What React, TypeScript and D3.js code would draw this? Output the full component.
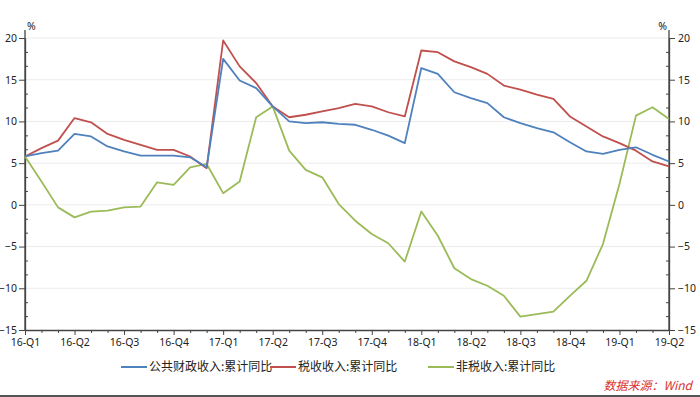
import { useEffect, useRef } from "react";
import * as d3 from "d3";

// quarter labels on the x axis, one every 3 months
const quarterLabels = [
  "16-Q1", "16-Q2", "16-Q3", "16-Q4",
  "17-Q1", "17-Q2", "17-Q3", "17-Q4",
  "18-Q1", "18-Q2", "18-Q3", "18-Q4",
  "19-Q1", "19-Q2",
];

// monthly points, month 0 sits on 16-Q1 and month 39 on 19-Q2
const publicRevenue = [
  5.8, 6.2, 6.5, 8.5, 8.2, 7.0, 6.4, 5.9, 5.9, 5.9, 5.7, 4.5,
  17.5, 14.9, 14.0, 11.8, 10.0, 9.8, 9.9, 9.7, 9.6, 9.0, 8.3, 7.4,
  16.4, 15.7, 13.5, 12.8, 12.2, 10.5, 9.8, 9.2, 8.7, 7.5, 6.4, 6.1,
  6.6, 6.9, 6.0, 5.2,
];
const taxRevenue = [
  5.8, 6.8, 7.7, 10.4, 9.9, 8.5, 7.8, 7.2, 6.6, 6.6, 5.8, 4.4,
  19.7, 16.6, 14.6, 11.8, 10.5, 10.8, 11.2, 11.6, 12.1, 11.8, 11.1, 10.6,
  18.5, 18.3, 17.2, 16.5, 15.7, 14.3, 13.8, 13.2, 12.7, 10.6, 9.4, 8.2,
  7.4, 6.5, 5.2, 4.6,
];
const nonTaxRevenue = [
  5.8, 2.8, -0.3, -1.5, -0.8, -0.7, -0.3, -0.2, 2.7, 2.4, 4.5, 4.9,
  1.4, 2.8, 10.5, 11.8, 6.5, 4.2, 3.3, 0.1, -1.9, -3.5, -4.6, -6.8,
  -0.8, -3.7, -7.6, -8.9, -9.7, -10.9, -13.4, -13.1, -12.8, -10.9, -9.1, -4.7,
  2.5, 10.7, 11.7, 10.3,
];

const seriesNames = ["公共财政收入:累计同比", "税收收入:累计同比", "非税收入:累计同比"];
const seriesColors = ["#4f81bd", "#c0504d", "#9bbb59"];

const yTicks = [-15, -10, -5, 0, 5, 10, 15, 20];

const FONT = "'Noto Sans', 'Noto Sans CJK SC', sans-serif";
const CJK = "'Noto Sans CJK SC', sans-serif";

export default function App() {
  const chartRef = useRef<HTMLDivElement>(null);

  useEffect(() => {
    const root = d3.select(chartRef.current);
    root.selectAll("*").remove();

    const svg = root
      .append("svg")
      .attr("width", 700)
      .attr("height", 397)
      .style("position", "absolute")
      .style("left", 0)
      .style("top", 0)
      .style("background", "#fff");

    const left = 25;
    const right = 669;
    const top = 38;
    const bottom = 330;

    const n = publicRevenue.length;
    const x = d3.scaleLinear().domain([0, n - 1]).range([left, right]);
    const y = d3.scaleLinear().domain([-15, 20]).range([bottom, top]);

    // grid
    svg
      .append("g")
      .selectAll("line")
      .data(yTicks.slice(1))
      .enter()
      .append("line")
      .attr("x1", left)
      .attr("x2", right)
      .attr("y1", d => y(d))
      .attr("y2", d => y(d))
      .attr("stroke", "#ebebeb")
      .attr("stroke-width", 1);

    const minorY = d3.range(-15, 20.01, 5 / 3).filter(v => Math.abs(v / 5 - Math.round(v / 5)) > 0.01);

    const styleAxis = (g: d3.Selection<SVGGElement, unknown, null, undefined>) => {
      g.selectAll(".domain").attr("stroke", "#444").attr("stroke-width", 1.3);
      g.selectAll(".tick line").attr("stroke", "#444");
      g.selectAll("text")
        .attr("fill", "#222")
        .style("font-family", FONT)
        .style("font-size", "10.5px");
    };

    // left axis
    const leftAxis = svg
      .append("g")
      .attr("transform", `translate(${left},0)`)
      .call(d3.axisLeft(y).tickValues(yTicks).tickSize(6).tickPadding(2).tickSizeOuter(0));
    styleAxis(leftAxis);
    svg
      .append("g")
      .attr("transform", `translate(${left},0)`)
      .call(d3.axisLeft(y).tickValues(minorY).tickSize(-3).tickFormat(() => "").tickSizeOuter(0))
      .call(g => g.select(".domain").remove())
      .call(g => g.selectAll(".tick line").attr("stroke", "#444"));
    svg.append("line")
      .attr("x1", left).attr("x2", left).attr("y1", 30).attr("y2", bottom)
      .attr("stroke", "#444").attr("stroke-width", 1.3);

    // right axis
    const rightAxis = svg
      .append("g")
      .attr("transform", `translate(${right},0)`)
      .call(d3.axisRight(y).tickValues(yTicks).tickSize(6).tickPadding(3).tickSizeOuter(0));
    styleAxis(rightAxis);
    svg
      .append("g")
      .attr("transform", `translate(${right},0)`)
      .call(d3.axisRight(y).tickValues(minorY).tickSize(-3).tickFormat(() => "").tickSizeOuter(0))
      .call(g => g.select(".domain").remove())
      .call(g => g.selectAll(".tick line").attr("stroke", "#444"));
    svg.append("line")
      .attr("x1", right).attr("x2", right).attr("y1", 30).attr("y2", bottom)
      .attr("stroke", "#444").attr("stroke-width", 1.3);

    // % units
    svg.append("text")
      .attr("x", left + 2).attr("y", 30)
      .attr("fill", "#222").style("font-family", FONT).style("font-size", "10.5px")
      .text("%");
    svg.append("text")
      .attr("x", right - 2).attr("y", 30).attr("text-anchor", "end")
      .attr("fill", "#222").style("font-family", FONT).style("font-size", "10.5px")
      .text("%");

    // bottom axis
    const quarterIdx = quarterLabels.map((_, i) => i * 3);
    const bottomAxis = svg
      .append("g")
      .attr("transform", `translate(0,${bottom})`)
      .call(
        d3.axisBottom(x)
          .tickValues(quarterIdx)
          .tickFormat((_, i) => quarterLabels[i])
          .tickSize(5)
          .tickPadding(4)
          .tickSizeOuter(0)
      );
    styleAxis(bottomAxis);
    svg
      .append("g")
      .attr("transform", `translate(0,${bottom})`)
      .call(
        d3.axisBottom(x)
          .tickValues(d3.range(0, n).filter(i => i % 3 !== 0))
          .tickSize(3)
          .tickFormat(() => "")
          .tickSizeOuter(0)
      )
      .call(g => g.select(".domain").remove())
      .call(g => g.selectAll(".tick line").attr("stroke", "#444"));

    // lines
    const lineGenerator = d3
      .line<number>()
      .x((_, i) => x(i))
      .y(d => y(d));

    const allSeries = [publicRevenue, taxRevenue, nonTaxRevenue];
    // draw green first so blue/red sit on top like the original
    const order = [2, 1, 0];
    svg
      .append("g")
      .selectAll("path")
      .data(order)
      .enter()
      .append("path")
      .attr("fill", "none")
      .attr("stroke", k => seriesColors[k])
      .attr("stroke-width", 1.8)
      .attr("stroke-linejoin", "round")
      .attr("d", k => lineGenerator(allSeries[k]));

    // legend
    const legendX = [121, 270, 428];
    const legend = svg
      .append("g")
      .selectAll("g")
      .data(seriesNames)
      .enter()
      .append("g")
      .attr("transform", (_, i) => `translate(${legendX[i]},367)`);
    legend
      .append("line")
      .attr("x1", 0)
      .attr("x2", 26)
      .attr("stroke", (_, i) => seriesColors[i])
      .attr("stroke-width", 2);
    legend
      .append("text")
      .attr("x", 28)
      .attr("dy", "0.35em")
      .attr("fill", "#222")
      .style("font-family", CJK)
      .style("font-size", "12px")
      .text(d => d);

    // source note
    svg.append("text")
      .attr("x", 692).attr("y", 390).attr("text-anchor", "end")
      .attr("fill", "#d9322f")
      .style("font-family", CJK)
      .style("font-size", "12px")
      .style("font-style", "italic")
      .text("数据来源：Wind");

    svg.append("line")
      .attr("x1", 0).attr("x2", 700).attr("y1", 396).attr("y2", 396)
      .attr("stroke", "#555").attr("stroke-width", 2);
  }, []);

  return <div ref={chartRef}></div>;
}
